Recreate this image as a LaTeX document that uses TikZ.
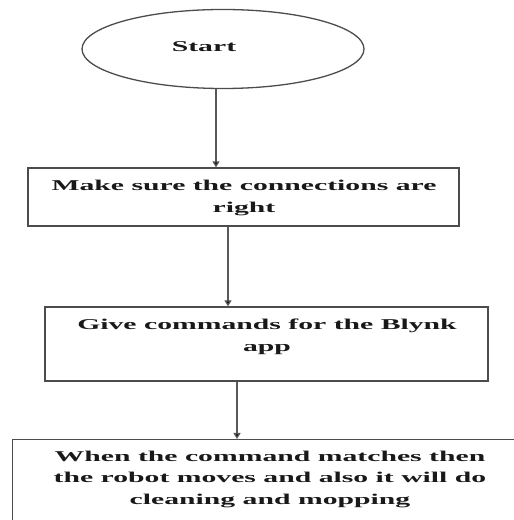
\documentclass[tikz,border=0pt]{standalone}
\usepackage{fontspec}
\setmainfont{Liberation Serif}
\newfontfamily\widefont[FakeStretch=1.98]{Liberation Serif}
\usetikzlibrary{shapes.geometric,arrows.meta,calc}
\begin{document}
\begin{tikzpicture}[x=1pt,y=1pt,
  shapeline/.style={draw=black!70,line width=1.3pt},
  arr/.style={draw=black!65,line width=1.3pt,-{Triangle[length=6pt,width=7pt,fill=black]}},
  label/.style={font=\widefont\fontsize{15}{21.5}\selectfont\bfseries,align=center,inner sep=0pt,text=black!90}]
\useasboundingbox (0,0) rectangle (514,520);
\clip (0,0) rectangle (514,520);
\node[ellipse,shapeline,minimum width=282pt,minimum height=79pt,inner sep=0pt] (start) at (223,471) {};
\node[label] (starttext) at (204,473) {Start};
\node[rectangle,shapeline,minimum width=431pt,minimum height=58pt,inner sep=0pt] (box1) at (243.5,323) {};
\node[label] (t1) at (244,322) {Make sure the connections are\\right};
\node[rectangle,shapeline,minimum width=443pt,minimum height=74pt,inner sep=0pt] (box2) at (266.5,176) {};
\node[label] (t2) at (267,183) {Give commands for the Blynk\\app};
\node[rectangle,shapeline,minimum width=518pt,minimum height=120pt,inner sep=0pt,anchor=north west] (box3) at (12,81) {};
\node[label] (t3) at (270,41) {When the command matches then\\the robot moves and also it will do\\cleaning and mopping};
\coordinate (a1) at (216,0);
\coordinate (a2) at (228,0);
\coordinate (a3) at (237,0);
\draw[arr] (start.south -| a1) -- (box1.north -| a1);
\draw[arr] (box1.south -| a2) -- (box2.north -| a2);
\draw[arr] (box2.south -| a3) -- (box3.north -| a3);
\end{tikzpicture}
\end{document}
